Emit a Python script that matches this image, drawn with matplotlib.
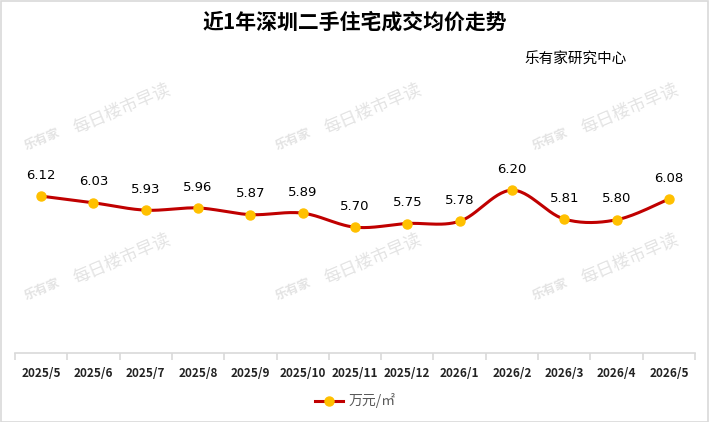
import numpy as np
import matplotlib
matplotlib.use('Agg')
import matplotlib.pyplot as plt
from matplotlib.lines import Line2D
from matplotlib.patches import Rectangle

plt.rcParams['font.family'] = ['Noto Sans CJK SC', 'DejaVu Sans']

months = ['2025/5', '2025/6', '2025/7', '2025/8', '2025/9', '2025/10', '2025/11',
          '2025/12', '2026/1', '2026/2', '2026/3', '2026/4', '2026/5']
prices = [6.12, 6.03, 5.93, 5.96, 5.87, 5.89, 5.70, 5.75, 5.78, 6.20, 5.81, 5.80, 6.08]
title = '近1年深圳二手住宅成交均价走势'
source = '乐有家研究中心'
unit = '万元/㎡'

LINE_C = '#C00000'
DOT_C = '#FFC000'


def smooth(xs, ys, n=30):
	# Excel-style smoothed line: cubic bezier with catmull-rom control points
	xs = np.asarray(xs, float)
	ys = np.asarray(ys, float)
	px, py = [], []
	for i in range(len(xs) - 1):
		x0, y0 = (xs[i - 1], ys[i - 1]) if i > 0 else (xs[i], ys[i])
		x3, y3 = (xs[i + 2], ys[i + 2]) if i + 2 < len(xs) else (xs[i + 1], ys[i + 1])
		c1 = (xs[i] + (xs[i + 1] - x0) / 6., ys[i] + (ys[i + 1] - y0) / 6.)
		c2 = (xs[i + 1] - (x3 - xs[i]) / 6., ys[i + 1] - (y3 - ys[i]) / 6.)
		t = np.linspace(0, 1, n)
		a, b, c, d = (1 - t) ** 3, 3 * (1 - t) ** 2 * t, 3 * (1 - t) * t ** 2, t ** 3
		px.extend(a * xs[i] + b * c1[0] + c * c2[0] + d * xs[i + 1])
		py.extend(a * ys[i] + b * c1[1] + c * c2[1] + d * ys[i + 1])
	return px, py


fig = plt.figure(figsize=(7.09, 4.22), dpi=100)
fig.patches.append(Rectangle((0.001, 0.001), 0.997, 0.996, transform=fig.transFigure,
							 fill=False, edgecolor='#d9d9d9', lw=1.2))

# watermarks
for cx in [42, 293, 550]:
	for cy in [140, 290]:
		fig.text(cx / 709., 1 - cy / 422., '乐有家', rotation=23, ha='center', va='center',
				 fontsize=9, fontweight='bold', color='#e3e3e3', zorder=0)
		fig.text((cx + 80) / 709., 1 - (cy - 32) / 422., '每日楼市早读', rotation=23,
				 ha='center', va='center', fontsize=12.5, color='#e3e3e3', zorder=0)

ax = fig.add_axes([15 / 709., 69 / 422., 680 / 709., 222 / 422.])
ax.patch.set_alpha(0)
x = np.arange(len(months))
sx, sy = smooth(x, prices)
ax.plot(sx, sy, color=LINE_C, lw=2.2, solid_capstyle='round', zorder=3)
ax.plot(x, prices, 'o', color=DOT_C, markersize=6.5, zorder=4)
for xi, p in zip(x, prices):
	ax.annotate('%.2f' % p, (xi, p), xytext=(0, 15), textcoords='offset points',
				ha='center', va='center', fontsize=9.5, family='DejaVu Sans', color='#000000')

ax.set_xlim(-0.5, len(months) - 0.5)
ax.set_ylim(4, 7)
ax.set_yticks([])
for s in ['top', 'right', 'left']:
	ax.spines[s].set_visible(False)
ax.spines['bottom'].set_color('#d9d9d9')
ax.spines['bottom'].set_linewidth(1.2)
ax.set_xticks(x)
ax.set_xticklabels(months, fontsize=8.5, fontweight='bold', color='#222222')
ax.tick_params(axis='x', which='major', length=0, pad=10)
ax.set_xticks(np.arange(-0.5, len(months)), minor=True)
ax.tick_params(axis='x', which='minor', length=5, color='#d9d9d9', width=1.2)

fig.text(0.5, 1 - 22 / 422., title, ha='center', va='center', fontsize=15, fontweight='bold')
fig.text(576 / 709., 1 - 60 / 422., source, ha='center', va='center', fontsize=10.5)

handle = Line2D([], [], color=LINE_C, lw=2.2, marker='o', markersize=6.5,
				markerfacecolor=DOT_C, markeredgecolor=DOT_C)
fig.legend([handle], [unit], loc='center', bbox_to_anchor=(355 / 709., 1 - 401 / 422.),
		   frameon=False, fontsize=10, labelcolor='#595959', handlelength=2.0,
		   handletextpad=0.4)

fig.savefig('out.png', dpi=100)
